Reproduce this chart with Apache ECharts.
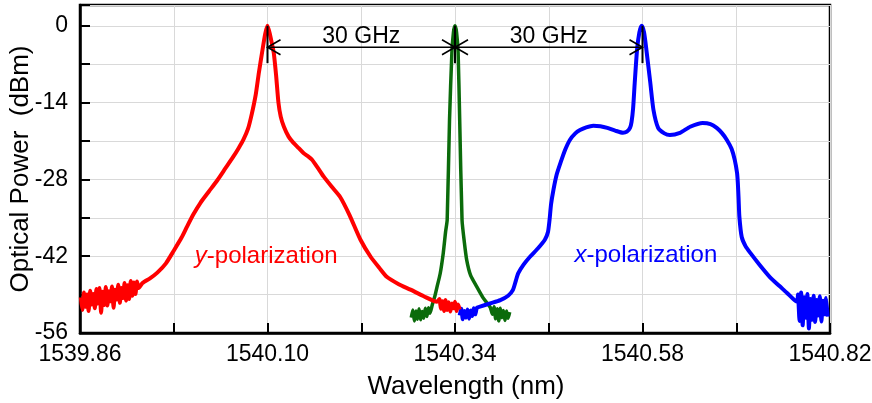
<!DOCTYPE html>
<html><head><meta charset="utf-8">
<script src="https://cdn.jsdelivr.net/npm/echarts@6/dist/echarts.min.js"></script>
<style>html,body{margin:0;padding:0;background:#fff}#c{width:872px;height:403px}</style>
</head><body><div id="c"></div><script>
// ---- axis settings ----
const X0 = 1539.86;          // x-axis start (nm)
const X1 = 1540.82;          // x-axis end (nm)
const xStep = 0.12;
const yMin = -56, yMax = 3.8, yStep = 7;

// ---- red: y-polarization ----
const redX = [1539.861,1539.863,1539.865,1539.867,1539.869,1539.871,1539.873,1539.875,1539.877,1539.879,1539.881,1539.883,1539.885,1539.887,1539.889,1539.891,1539.893,1539.895,1539.897,1539.899,1539.901,1539.903,1539.905,1539.907,1539.909,1539.911,1539.913,1539.915,1539.917,1539.919,1539.921,1539.923,1539.925,1539.927,1539.929,1539.931,1539.933,1539.935,
1539.940,1539.950,1539.959,1539.970,1539.980,1539.990,1539.997,1540.005,1540.014,1540.025,1540.036,1540.046,1540.056,1540.063,1540.069,1540.075,1540.080,1540.085,1540.089,1540.093,1540.097,1540.100,
1540.103,1540.106,1540.108,1540.111,1540.114,1540.117,1540.121,1540.127,1540.133,1540.140,1540.146,1540.152,1540.157,1540.164,1540.172,1540.182,1540.193,1540.205,1540.219,1540.232,1540.243,1540.253,1540.268,1540.283,1540.300,1540.317,
1540.320,1540.322,1540.324,1540.326,1540.328,1540.330,1540.332,1540.334,1540.336,1540.338,1540.340,1540.342,1540.344,1540.346];
const redY = [-49.5,-51.8,-48.6,-51.2,-49.0,-52.0,-48.3,-50.8,-48.9,-51.5,-48.0,-50.6,-47.8,-52.3,-48.5,-50.9,-47.6,-51.0,-48.4,-50.2,-47.5,-51.4,-48.1,-49.9,-47.2,-50.5,-47.8,-49.6,-46.9,-50.1,-47.3,-49.8,-46.5,-49.2,-46.8,-48.9,-46.6,-47.8,
-46.9,-46.0,-45.0,-43.3,-41.0,-38.6,-36.6,-34.4,-32.3,-30.2,-28.1,-26.0,-23.9,-22.3,-20.8,-18.8,-16.0,-12.5,-8.5,-4.9,-1.5,0,
-1.5,-3.5,-4.9,-9.0,-14.0,-16.6,-18.4,-20.2,-21.3,-22.3,-23.2,-23.8,-24.4,-25.8,-27.5,-29.3,-31.2,-34.5,-39.0,-42.1,-44.1,-45.8,-47.1,-48.1,-49.3,-50.3,
-49.8,-51.6,-50.2,-52.0,-50.0,-51.8,-50.4,-52.1,-50.6,-51.5,-50.3,-52.0,-50.8,-51.7];

// ---- green: carrier ----
const greenX = [1540.284,1540.286,1540.288,1540.290,1540.292,1540.294,1540.296,1540.298,1540.300,1540.302,1540.304,1540.306,1540.308,
1540.311,1540.314,1540.317,1540.321,1540.325,1540.328,1540.330,1540.333,1540.336,1540.338,1540.340,1540.342,1540.344,1540.346,1540.349,1540.352,1540.355,1540.360,1540.368,1540.376,1540.385,
1540.388,1540.390,1540.392,1540.394,1540.396,1540.398,1540.400,1540.402,1540.404,1540.406,1540.408,1540.410];
const greenY = [-53.2,-51.8,-53.8,-52.0,-53.5,-51.6,-53.6,-52.1,-53.3,-51.5,-53.0,-51.4,-52.4,
-50.8,-49.4,-47.6,-45.2,-41.4,-37.5,-35.4,-17.1,-4.9,-1.2,0,-1.2,-4.9,-17.1,-35.4,-39.5,-42.7,-45.5,-47.6,-49.6,-51.3,
-52.6,-51.2,-53.4,-51.6,-53.8,-51.5,-53.2,-51.9,-53.7,-52.0,-53.3,-52.2];

// ---- blue: x-polarization ----
const blueX = [1540.346,1540.348,1540.350,1540.352,1540.354,1540.356,1540.358,1540.360,1540.362,1540.364,1540.366,1540.368,
1540.372,1540.385,1540.398,1540.408,1540.414,1540.418,1540.421,1540.428,1540.436,1540.446,1540.455,1540.459,1540.461,1540.463,1540.466,1540.470,1540.475,1540.481,1540.487,1540.494,1540.500,1540.508,1540.517,1540.526,1540.535,1540.545,1540.555,1540.560,1540.564,
1540.566,1540.568,1540.570,1540.573,1540.576,1540.579,1540.582,1540.585,1540.590,1540.594,1540.600,1540.608,1540.615,1540.628,1540.641,1540.657,1540.667,1540.675,1540.682,1540.688,1540.694,1540.698,1540.701,1540.702,1540.703,1540.704,1540.707,1540.712,1540.718,1540.730,1540.743,1540.755,1540.765,1540.773,1540.778,
1540.779,1540.781,1540.783,1540.785,1540.787,1540.789,1540.791,1540.793,1540.795,1540.797,1540.799,1540.801,1540.803,1540.805,1540.807,1540.809,1540.811,1540.813,1540.815,1540.817];
const blueY = [-52.8,-51.6,-53.5,-52.0,-53.2,-51.7,-53.4,-51.9,-52.9,-51.5,-52.6,-51.4,
-51.2,-50.6,-50.0,-49.2,-48.2,-46.4,-45.1,-43.5,-42.1,-40.6,-39.0,-37.6,-35.4,-32.5,-29.9,-27.2,-25.0,-22.6,-20.8,-19.6,-19.0,-18.5,-18.2,-18.3,-18.6,-19.1,-19.5,-19.3,-18.6,
-17.5,-15.0,-10.5,-4.4,-1.2,0,-1.2,-4.4,-10.4,-15.3,-18.6,-19.6,-19.9,-19.5,-18.4,-17.7,-17.9,-18.6,-19.6,-20.8,-22.4,-24.4,-26.8,-28.6,-31.5,-34.8,-38.5,-40.2,-41.4,-43.6,-45.8,-47.4,-48.7,-49.8,-50.3,
-49.0,-53.8,-48.6,-54.6,-49.5,-53.2,-48.9,-55.2,-49.8,-53.6,-49.2,-54.0,-50.0,-52.8,-49.3,-53.9,-50.1,-52.6,-49.6,-53.0];

// ---- annotations ----
const peakMarkX = [1540.10, 1540.34, 1540.58];
const peakMarkRange = [0, -6.8];
const spanStart = [1540.10, 1540.34];
const spanEnd = [1540.34, 1540.58];
const spanLevel = -3.9;
const spanText = ['30 GHz', '30 GHz'];
const polLabelX = [1540.007, 1540.493];
const polLabelY = [-42.0, -41.8];
const polLabelItalic = ['y', 'x'];
const polLabelRest = ['-polarization', '-polarization'];
const polLabelColor = ['#ff0000', '#0000ff'];

const FONT = '"Liberation Sans", Arial, sans-serif';
const rel = x => +(x - X0).toFixed(4);
const pairs = (xs, ys) => xs.map((x, i) => [rel(x), ys[i]]);

const chart = echarts.init(document.getElementById('c'), null, {renderer: 'canvas'});

const lineSeries = (name, xs, ys, color, w) => ({
  name, type: 'line', data: pairs(xs, ys), showSymbol: false, symbol: 'none',
  smooth: 0.2, lineStyle: {color, width: w}, animation: false, z: 3
});

const option = {
  animation: false,
  backgroundColor: '#fff',
  grid: {left: 80, right: 42, top: 5, bottom: 70, containLabel: false, outerBoundsMode: 'none',
         show: true, borderColor: '#000', borderWidth: 2.5, backgroundColor: 'transparent'},
  xAxis: {
    type: 'value', min: 0, max: rel(X1), interval: xStep,
    name: 'Wavelength (nm)', nameLocation: 'middle', nameGap: 41, nameMoveOverlap: false,
    nameTextStyle: {fontFamily: FONT, fontSize: 26, color: '#000', padding: [0, 0, 0, 22]},
    axisLine: {show: true, onZero: false, lineStyle: {color: '#000', width: 2.5}},
    axisTick: {show: true, inside: true, length: 10, lineStyle: {color: '#000', width: 2}},
    splitLine: {show: true, lineStyle: {color: '#d9d9d9', width: 1}},
    axisLabel: {
      fontFamily: FONT, fontSize: 23, color: '#000', margin: 10,
      showMinLabel: true, showMaxLabel: true,
      formatter: v => (Math.round(v / xStep) % 2 === 0) ? (X0 + v).toFixed(2) : ''
    }
  },
  yAxis: {
    type: 'value', min: yMin, max: yMax, interval: yStep,
    name: 'Optical Power  (dBm)', nameLocation: 'middle', nameGap: 46, nameMoveOverlap: false,
    nameTextStyle: {fontFamily: FONT, fontSize: 26, color: '#000'},
    axisLine: {show: true, onZero: false, lineStyle: {color: '#000', width: 2.5}},
    axisTick: {show: true, inside: true, length: 10, lineStyle: {color: '#000', width: 2}},
    splitLine: {show: true, lineStyle: {color: '#d9d9d9', width: 1}},
    axisLabel: {
      fontFamily: FONT, fontSize: 23, color: '#000', margin: 12,
      formatter: v => (Math.abs(v % 14) < 1e-6 && v <= 0) ? String(v) : ''
    }
  },
  series: [
    lineSeries('green', greenX, greenY, '#0b6b0b', 3.5),
    lineSeries('blue', blueX, blueY, '#0000ff', 4),
    lineSeries('red', redX, redY, '#ff0000', 4),
    {
      type: 'custom', name: 'peakMarks', z: 10, animation: false, silent: true,
      data: peakMarkX.map(x => [rel(x), peakMarkRange[0], peakMarkRange[1]]),
      encode: {x: 0, y: [1, 2]},
      renderItem: (params, api) => {
        const a = api.coord([api.value(0), api.value(1)]);
        const b = api.coord([api.value(0), api.value(2)]);
        return {type: 'line', shape: {x1: a[0], y1: a[1], x2: b[0], y2: b[1]}, style: {stroke: '#000', lineWidth: 2}};
      }
    },
    {
      type: 'custom', name: 'spans', z: 10, animation: false, silent: true,
      data: spanStart.map((s, i) => [rel(s), rel(spanEnd[i]), spanLevel]),
      encode: {x: [0, 1], y: 2},
      renderItem: (params, api) => {
        const p1 = api.coord([api.value(0), api.value(2)]);
        const p2 = api.coord([api.value(1), api.value(2)]);
        const hx = 13, hy = 7.5;
        const st = {stroke: '#000', lineWidth: 1.6, fill: null};
        return {
          type: 'group', children: [
            {type: 'line', shape: {x1: p1[0], y1: p1[1], x2: p2[0], y2: p2[1]}, style: st},
            {type: 'polyline', shape: {points: [[p1[0] + hx, p1[1] - hy], [p1[0], p1[1]], [p1[0] + hx, p1[1] + hy]]}, style: st},
            {type: 'polyline', shape: {points: [[p2[0] - hx, p2[1] - hy], [p2[0], p2[1]], [p2[0] - hx, p2[1] + hy]]}, style: st},
            {type: 'text', style: {
              text: spanText[params.dataIndex], x: (p1[0] + p2[0]) / 2, y: p1[1] - 11,
              align: 'center', verticalAlign: 'middle', textAlign: 'center', textVerticalAlign: 'middle',
              fontFamily: FONT, fontSize: 23, font: '23px ' + FONT, fill: '#000'
            }}
          ]
        };
      }
    },
    {
      type: 'custom', name: 'polLabels', z: 10, animation: false, silent: true,
      data: polLabelX.map((x, i) => [rel(x), polLabelY[i]]),
      encode: {x: 0, y: 1},
      renderItem: (params, api) => {
        const i = params.dataIndex;
        const p = api.coord([api.value(0), api.value(1)]);
        const c = polLabelColor[i];
        return {
          type: 'text', style: {
            text: '{i|' + polLabelItalic[i] + '}{n|' + polLabelRest[i] + '}',
            x: p[0], y: p[1], align: 'left', verticalAlign: 'middle', textAlign: 'left', textVerticalAlign: 'middle',
            fill: c, fontFamily: FONT, fontSize: 24, font: '24px ' + FONT,
            rich: {
              i: {fontStyle: 'italic', fontFamily: FONT, fontSize: 24, fill: c, color: c},
              n: {fontFamily: FONT, fontSize: 24, fill: c, color: c}
            }
          }
        };
      }
    }
  ]
};
chart.setOption(option);
</script></body></html>
